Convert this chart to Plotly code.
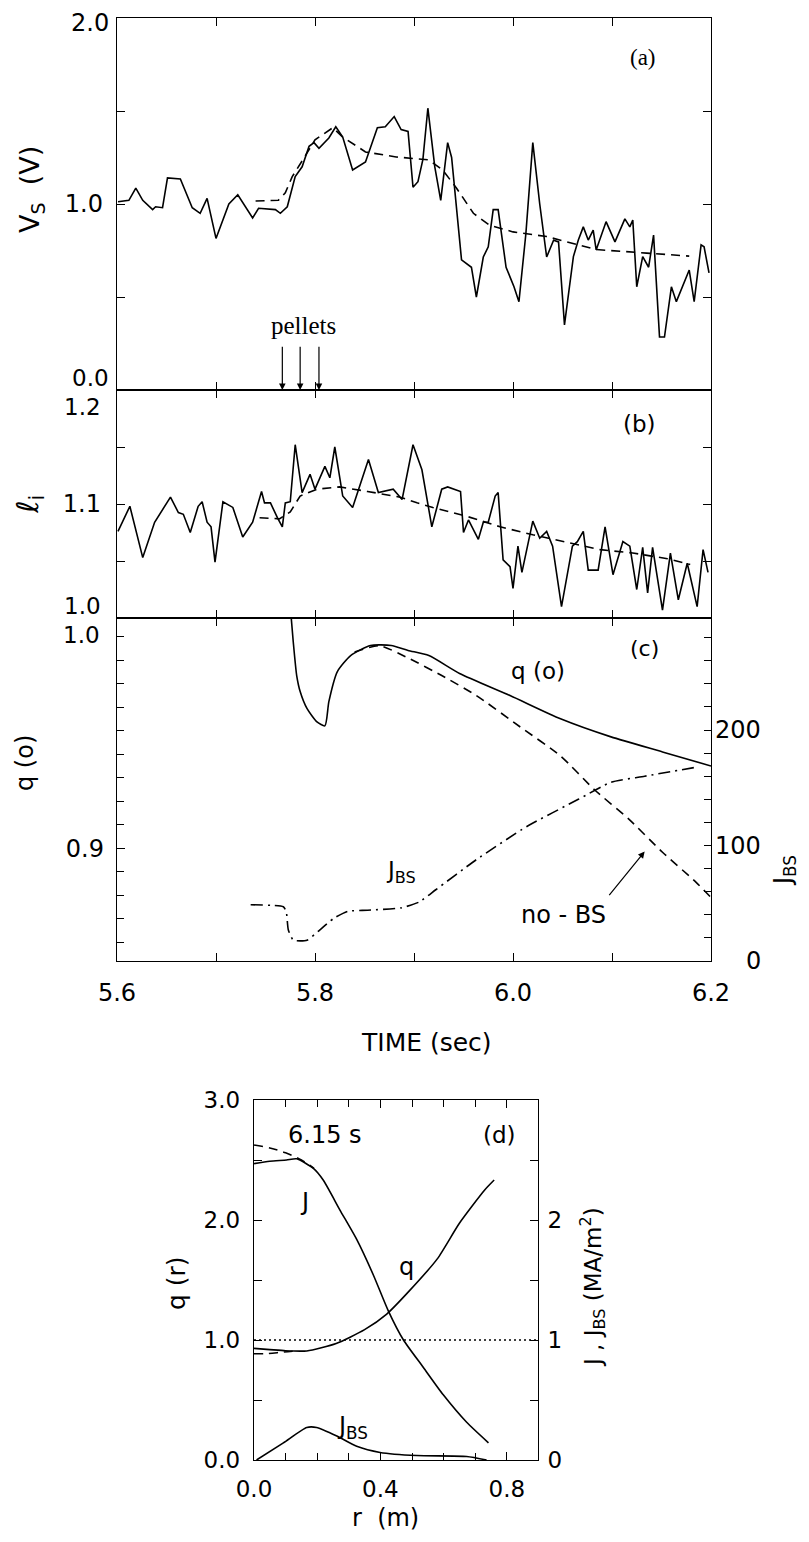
import plotly.graph_objects as go

# ---------------- data ----------------
# (a) surface loop voltage Vs (V): measured (solid) and simulated (dashed)
a_t = [5.601, 5.612, 5.619, 5.626, 5.636, 5.639, 5.646, 5.651, 5.664, 5.676, 5.684, 5.691,
       5.700, 5.713, 5.722, 5.737, 5.743, 5.760, 5.765, 5.772, 5.780, 5.787, 5.794, 5.799,
       5.804, 5.814, 5.821, 5.828, 5.838, 5.851, 5.863, 5.871, 5.880, 5.887, 5.894, 5.899,
       5.904, 5.909, 5.914, 5.921, 5.927, 5.934, 5.938, 5.948, 5.958, 5.963, 5.970, 5.975,
       5.980, 5.985, 5.993, 6.001, 6.006, 6.013, 6.020, 6.027, 6.034, 6.041, 6.046, 6.052,
       6.061, 6.066, 6.071, 6.076, 6.081, 6.084, 6.094, 6.103, 6.113, 6.118, 6.121, 6.125,
       6.131, 6.137, 6.142, 6.148, 6.153, 6.160, 6.165, 6.178, 6.183, 6.190, 6.193, 6.198]
a_v = [1.012, 1.02, 1.085, 1.02, 0.97, 0.985, 0.98, 1.14, 1.135, 0.98, 0.95, 1.03,
       0.815, 1.0, 1.05, 0.925, 0.977, 0.97, 0.95, 0.985, 1.147, 1.2, 1.31, 1.33,
       1.30, 1.355, 1.415, 1.36, 1.183, 1.226, 1.41, 1.415, 1.47, 1.40, 1.39, 1.09,
       1.12, 1.24, 1.515, 1.2, 1.02, 1.33, 1.25, 0.70, 0.66, 0.50, 0.715, 0.77,
       0.97, 0.97, 0.66, 0.555, 0.475, 0.84, 1.33, 1.0, 0.715, 0.805, 0.796, 0.35,
       0.717, 0.806, 0.877, 0.806, 0.86, 0.753, 0.905, 0.796, 0.92, 0.877, 0.914, 0.555,
       0.717, 0.66, 0.833, 0.285, 0.285, 0.555, 0.475, 0.645, 0.475, 0.78, 0.77, 0.63]
a_sim_t = [5.740, 5.763, 5.770, 5.777, 5.788, 5.800, 5.818, 5.828, 5.851, 5.882, 5.915,
           5.929, 5.943, 5.960, 5.976, 6.000, 6.034, 6.084, 6.135, 6.178]
a_sim_v = [1.016, 1.02, 1.06, 1.147, 1.24, 1.345, 1.41, 1.36, 1.28, 1.253, 1.237,
           1.183, 1.085, 0.95, 0.887, 0.85, 0.825, 0.755, 0.736, 0.72]
pellet_t = [5.767, 5.785, 5.804]

# (b) internal inductance li
b_t = [5.601, 5.613, 5.626, 5.638, 5.654, 5.662, 5.667, 5.674, 5.682, 5.686, 5.691, 5.695,
       5.699, 5.707, 5.717, 5.727, 5.737, 5.746, 5.749, 5.755, 5.762, 5.767, 5.770, 5.775,
       5.780, 5.787, 5.795, 5.800, 5.810, 5.815, 5.820, 5.828, 5.838, 5.854, 5.864, 5.879,
       5.888, 5.899, 5.908, 5.918, 5.928, 5.934, 5.947, 5.950, 5.955, 5.965, 5.970, 5.975,
       5.982, 5.985, 5.990, 5.997, 6.000, 6.005, 6.009, 6.020, 6.027, 6.034, 6.040, 6.049,
       6.060, 6.065, 6.071, 6.076, 6.086, 6.093, 6.101, 6.111, 6.118, 6.125, 6.131, 6.136,
       6.141, 6.151, 6.159, 6.167, 6.176, 6.186, 6.192, 6.197]
b_li = [1.076, 1.098, 1.053, 1.084, 1.106, 1.0925, 1.091, 1.075, 1.098, 1.102, 1.084, 1.080,
        1.049, 1.102, 1.097, 1.071, 1.084, 1.111, 1.101, 1.101, 1.088, 1.080, 1.101, 1.102,
        1.152, 1.110, 1.126, 1.113, 1.133, 1.123, 1.150, 1.107, 1.097, 1.139, 1.110, 1.113,
        1.104, 1.152, 1.130, 1.080, 1.113, 1.115, 1.111, 1.075, 1.086, 1.069, 1.084, 1.084,
        1.107, 1.110, 1.051, 1.045, 1.026, 1.063, 1.040, 1.085, 1.070, 1.076, 1.063, 1.010,
        1.063, 1.067, 1.076, 1.042, 1.042, 1.080, 1.038, 1.067, 1.063, 1.025, 1.062, 1.022,
        1.062, 1.007, 1.057, 1.016, 1.048, 1.010, 1.060, 1.040]
b_sim_t = [5.744, 5.764, 5.775, 5.785, 5.802, 5.825, 5.853, 5.886, 5.903, 5.919, 5.954,
           5.987, 6.020, 6.055, 6.088, 6.121, 6.156, 6.179]
b_sim_li = [1.088, 1.087, 1.093, 1.107, 1.113, 1.115, 1.111, 1.106, 1.101, 1.097, 1.089,
            1.080, 1.073, 1.066, 1.060, 1.057, 1.052, 1.047]

# (c) central q(0) with bootstrap (solid), without bootstrap (dashed), J_BS (dash-dot)
c_t = [5.776, 5.778, 5.7815, 5.785, 5.792, 5.802, 5.810, 5.814, 5.8226, 5.836, 5.856, 5.877,
       5.894, 5.915, 5.946, 5.997, 6.048, 6.099, 6.151, 6.200]
c_q0 = [0.998, 0.988, 0.9735, 0.9667, 0.9594, 0.9538, 0.9521, 0.9624, 0.9752, 0.982, 0.9863, 0.9863,
        0.9842, 0.982, 0.9744, 0.965, 0.9551, 0.9474, 0.941, 0.935]
c_nobs_t = [5.840, 5.865, 5.894, 5.928, 5.963, 6.007, 6.048, 6.082, 6.117, 6.151, 6.185, 6.200]
c_nobs_q0 = [0.9835, 0.9862, 0.981, 0.9735, 0.965, 0.9517, 0.9393, 0.925, 0.9124, 0.8983, 0.8855, 0.879]
c_jbs_t = [5.735, 5.768, 5.771, 5.773, 5.778, 5.785, 5.792, 5.805, 5.819, 5.833, 5.853, 5.887,
           5.905, 5.922, 5.963, 6.014, 6.066, 6.099, 6.133, 6.185]
c_jbs = [48.7, 47, 42.6, 27, 18, 17.4, 18, 27, 37, 43, 44, 46,
         51, 61.7, 87.8, 116.5, 140, 154.8, 160, 167.8]

# (d) profiles at 6.15 s
d_r_J = [0.0, 0.05, 0.103, 0.135, 0.188, 0.219, 0.272, 0.325, 0.378, 0.425, 0.473, 0.536,
         0.599, 0.673, 0.742]
d_J = [2.47, 2.49, 2.50, 2.51, 2.43, 2.333, 2.083, 1.838, 1.54, 1.243, 1.0, 0.771,
       0.543, 0.314, 0.143]
d_r_Jnobs = [0.0, 0.05, 0.10, 0.15, 0.19]
d_Jnobs = [2.625, 2.60, 2.56, 2.50, 2.43]
d_r_q = [0.0, 0.05, 0.10, 0.167, 0.26, 0.35, 0.42, 0.49, 0.58, 0.65, 0.73, 0.76]
d_q = [0.93, 0.92, 0.91, 0.909, 0.971, 1.086, 1.216, 1.405, 1.676, 1.973, 2.25, 2.333]
d_r_qnobs = [0.0, 0.04, 0.093, 0.13]
d_qnobs = [0.886, 0.886, 0.90, 0.908]
d_r_jbs = [0.008, 0.093, 0.167, 0.198, 0.262, 0.325, 0.399, 0.515, 0.673, 0.736]
d_jbs = [0.0, 0.143, 0.271, 0.271, 0.2, 0.114, 0.063, 0.037, 0.029, 0.0]

t_major = [5.6, 5.8, 6.0, 6.2]
t_minor = [5.7, 5.9, 6.1]

# ---------------- figure ----------------
PAGE_W, PAGE_H, BODY = 809, 1542, 8      # browser window and default body margin
W, H = PAGE_W - 2 * BODY, PAGE_H - 2 * BODY
def px(x):
    return (x - BODY) / W
def py(y):
    return 1 - (y - BODY) / H

BLACK = "black"
LW = 1.6
SANS = "DejaVu Sans"
SERIF = "Liberation Serif"

fig = go.Figure()
solid = dict(color=BLACK, width=LW)
dashed = dict(color=BLACK, width=LW, dash="9px,6px")
dashdot = dict(color=BLACK, width=LW, dash="12px,5px,2px,5px")

fig.add_trace(go.Scatter(x=a_t, y=a_v, mode="lines", line=solid, xaxis="x", yaxis="y"))
fig.add_trace(go.Scatter(x=a_sim_t, y=a_sim_v, mode="lines", line=dashed, xaxis="x", yaxis="y"))
fig.add_trace(go.Scatter(x=b_t, y=b_li, mode="lines", line=solid, xaxis="x2", yaxis="y2"))
fig.add_trace(go.Scatter(x=b_sim_t, y=b_sim_li, mode="lines", line=dashed, xaxis="x2", yaxis="y2"))
fig.add_trace(go.Scatter(x=c_t, y=c_q0, mode="lines", line=dict(solid, shape="spline", smoothing=0.6),
                         xaxis="x3", yaxis="y3"))
fig.add_trace(go.Scatter(x=c_nobs_t, y=c_nobs_q0, mode="lines", line=dict(dashed, shape="spline", smoothing=0.6),
                         xaxis="x3", yaxis="y3"))
fig.add_trace(go.Scatter(x=c_jbs_t, y=c_jbs, mode="lines", line=dict(dashdot, shape="spline", smoothing=0.5),
                         xaxis="x3", yaxis="y4"))
fig.add_trace(go.Scatter(x=d_r_J, y=d_J, mode="lines", line=dict(solid, shape="spline", smoothing=0.6),
                         xaxis="x4", yaxis="y6"))
fig.add_trace(go.Scatter(x=d_r_Jnobs, y=d_Jnobs, mode="lines", line=dict(dashed, shape="spline"),
                         xaxis="x4", yaxis="y6"))
fig.add_trace(go.Scatter(x=d_r_q, y=d_q, mode="lines", line=dict(solid, shape="spline", smoothing=0.6),
                         xaxis="x4", yaxis="y5"))
fig.add_trace(go.Scatter(x=d_r_qnobs, y=d_qnobs, mode="lines", line=dict(dashed, shape="spline"),
                         xaxis="x4", yaxis="y5"))
fig.add_trace(go.Scatter(x=d_r_jbs, y=d_jbs, mode="lines", line=dict(solid, shape="spline", smoothing=0.6),
                         xaxis="x4", yaxis="y6"))

xa = [px(117), px(711)]
ya = [py(390), py(18)]
yb = [py(618), py(390)]
yc = [py(961), py(618)]
xd = [px(254), px(538.4)]
yd = [py(1460), py(1100)]

tf = dict(family=SANS, size=24, color=BLACK)
base = dict(showline=True, linecolor=BLACK, linewidth=1.4, ticks="inside", tickcolor=BLACK,
            tickwidth=1.3, ticklen=8, showgrid=False, zeroline=False, tickfont=tf,
            automargin=False, ticklabeloverflow="allow")
def minor(vals, ln=8):
    return dict(tickvals=vals, ticks="inside", ticklen=ln, tickcolor=BLACK, tickwidth=1.3,
                showgrid=False)

fig.update_layout(
    template="none",
    width=W, height=H, autosize=False, showlegend=False,
    paper_bgcolor="white", plot_bgcolor="white",
    margin=dict(l=0, r=0, t=0, b=0, pad=0),
    xaxis=dict(base, domain=xa, anchor="y", range=[5.6, 6.2], mirror="ticks",
               tickvals=t_major, showticklabels=False, minor=minor(t_minor)),
    yaxis=dict(base, domain=ya, anchor="x", range=[0, 2], mirror="ticks",
               tickvals=[1.0, 2.0], ticktext=["1.0", ""], ticklabelstandoff=8,
               minor=minor([0, 0.5, 1.5])),
    xaxis2=dict(base, domain=xa, anchor="y2", range=[5.6, 6.2], mirror="ticks",
                tickvals=t_major, showticklabels=False, minor=minor(t_minor)),
    yaxis2=dict(base, domain=yb, anchor="x2", range=[1.0, 1.2], mirror="ticks",
                tickvals=[1.1], ticktext=["1.1"], ticklabelstandoff=10,
                minor=minor([1.0, 1.05, 1.15, 1.2])),
    xaxis3=dict(base, domain=xa, anchor="y3", range=[5.6, 6.2], mirror="ticks",
                tickvals=t_major, ticktext=["5.6", "5.8", "6.0", "6.2"], ticklabelstandoff=10,
                minor=minor(t_minor)),
    yaxis3=dict(base, domain=yc, anchor="x3", range=[0.852, 0.998], mirror=True,
                tickvals=[0.9], ticktext=["0.9"], ticklabelstandoff=7,
                minor=minor([0.86, 0.87, 0.88, 0.89, 0.91, 0.92, 0.93, 0.94, 0.95, 0.96,
                             0.97, 0.98, 0.99], 7)),
    yaxis4=dict(base, overlaying="y3", side="right", anchor="x3", range=[0, 297],
                showline=False, tickvals=list(range(0, 300, 20)), showticklabels=False,
                ticklen=7),
    xaxis4=dict(base, domain=xd, anchor="y5", range=[0, 0.9], mirror="ticks",
                tickvals=[0.0, 0.4, 0.8], ticktext=["0.0", "0.4", "0.8"],
                ticklabelstandoff=8, tickfont=dict(tf, size=23),
                minor=minor([0.1, 0.2, 0.3, 0.5, 0.6, 0.7], 7)),
    yaxis5=dict(base, domain=yd, anchor="x4", range=[0, 3], mirror=True,
                tickvals=[0, 1, 2, 3], ticktext=["0.0", "1.0", "2.0", "3.0"],
                ticklabelstandoff=8, tickfont=dict(tf, size=23),
                minor=minor([0.5, 1.5, 2.5])),
    yaxis6=dict(base, overlaying="y5", side="right", anchor="x4", range=[0, 3],
                showline=False, tickvals=[0, 1, 2], ticktext=["0", "1", "2"],
                ticklabelstandoff=8, tickfont=dict(tf, size=23),
                minor=minor([0.5, 1.5, 2.5, 3.0])),
)

# reference line q = 1 in panel (d)
fig.add_shape(type="line", xref="x4 domain", x0=0, x1=1, yref="y5", y0=1, y1=1,
              line=dict(color=BLACK, width=1.5, dash="2px,3px"))

ann = []
def txt(text, x, y, xref, yref, size=24, family=SANS, **kw):
    d = dict(text=text, x=x, y=y, xref=xref, yref=yref, showarrow=False,
             xanchor="center", yanchor="middle",
             font=dict(family=family, size=size, color=BLACK))
    d.update(kw)
    ann.append(d)

# tick labels that sit off their tick (panel boundaries)
txt("2.0", px(111), 2.0, "paper", "y", xanchor="right", yshift=-5)
txt("0.0", px(111), 0.0, "paper", "y", size=23, xanchor="right", yshift=12)
txt("1.2", px(103), 1.2, "paper", "y2", size=23, xanchor="right", yshift=-17)
txt("1.0", px(103), 1.0, "paper", "y2", size=23, xanchor="right", yshift=12)
txt("1.0", px(102), 0.998, "paper", "y3", size=23, xanchor="right", yshift=-17)
for v, s in [(200, "200"), (100, "100"), (0, "0")]:
    txt(s, px(763), v, "paper", "y4", xanchor="right")

# pellets
for tp in pellet_t:
    ann.append(dict(x=tp, y=0.0, xref="x", yref="y", ax=tp, ay=0.24, axref="x", ayref="y",
                    showarrow=True, arrowhead=2, arrowsize=1.1, arrowwidth=1.2,
                    arrowcolor=BLACK, text=""))
txt("pellets", 5.788, 0.345, "x", "y", size=25, family=SERIF)
txt("(a)", 6.131, 1.79, "x", "y", size=23, family=SERIF)
txt("(b)", 6.128, 1.170, "x2", "y2", size=23)

# panel (c) labels
txt("q (o)", 6.025, 0.9756, "x3", "y3", size=23)
txt("(c)", 6.133, 0.985, "x3", "y3", size=22)
txt("J<sub>BS</sub>", 5.887, 0.8897, "x3", "y3", size=23)
txt("no - BS", 6.051, 40, "x3", "y4", size=24)
ann.append(dict(x=6.133, y=94.8, xref="x3", yref="y4", ax=6.096, ay=55.7, axref="x3", ayref="y4",
                showarrow=True, arrowhead=2, arrowsize=1.1, arrowwidth=1.2, arrowcolor=BLACK, text=""))

# panel (d) labels
txt("6.15 s", 0.225, 2.71, "x4", "y5", size=24)
txt("(d)", 0.778, 2.71, "x4", "y5", size=23)
txt("J", 0.161, 2.15, "x4", "y5", size=24)
txt("q", 0.484, 1.61, "x4", "y5", size=24)
txt("J<sub>BS</sub>", 0.313, 0.27, "x4", "y5", size=24)

# axis titles
txt("V<sub>S</sub>  (V)", px(32), py(190), "paper", "paper", size=27, textangle=-90)
txt("ℓ<sub>i</sub>", px(30), py(505), "paper", "paper", size=30, textangle=-90)
txt("q (o)", px(25), py(763), "paper", "paper", size=24, textangle=-90)
txt("J<sub>BS</sub>", px(784), py(871), "paper", "paper", size=24, textangle=-90)
txt("TIME (sec)", px(426), py(1042), "paper", "paper", size=25)
txt("q (r)", px(176), py(1283), "paper", "paper", size=25, textangle=-90)
txt("J , J<sub>BS</sub> (MA/m<sup>2</sup>)", px(592), py(1287), "paper", "paper", size=23, textangle=-90)
txt("r  (m)", px(385), py(1518), "paper", "paper", size=24)

fig.update_layout(annotations=ann)
fig.write_html("out.html")
